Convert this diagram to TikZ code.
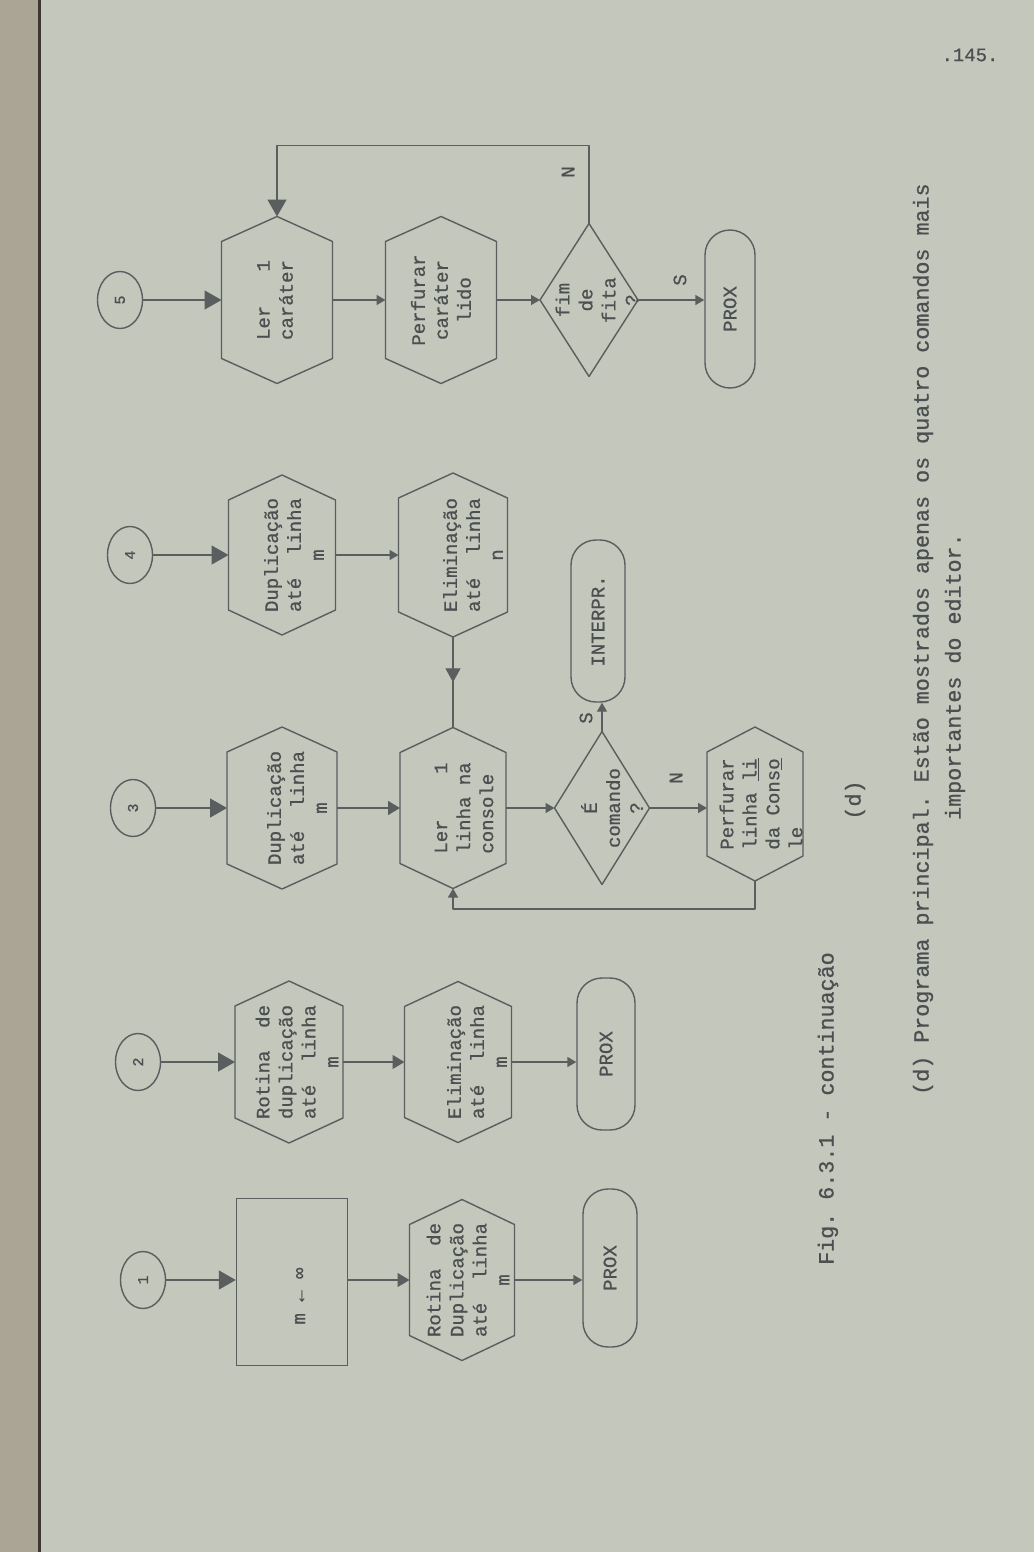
\documentclass[tikz,border=0pt]{standalone}
\usepackage{fontspec}
\setmonofont[FakeBold=0.8]{Liberation Mono}
\usetikzlibrary{arrows.meta,shapes.geometric,decorations.markings}

\definecolor{paper}{HTML}{C4C7BC}
\definecolor{bind}{HTML}{ABA595}
\definecolor{spine}{HTML}{3E3632}
\definecolor{ink}{HTML}{5A5E5E}
\definecolor{txt}{HTML}{4B4F50}

\newcommand\boxfont{\ttfamily\fontsize{19}{23}\selectfont}
\newcommand\numfont{\ttfamily\fontsize{15}{18}\selectfont}
\newcommand\capfont{\ttfamily\fontsize{21.7}{26}\selectfont}
% a line spread over a fixed width
\newcommand\jl[3]{\makebox[#1][l]{#2\hfill#3}}

\tikzset{
  flow/.style={draw=ink, color=ink, line width=1.4pt, line join=round},
  box/.style={rectangle, draw=none, inner sep=0pt, outer sep=0pt},
  conn/.style={ellipse, draw=ink, line width=1.4pt, minimum width=45pt, minimum height=57pt, inner sep=0pt},
  term/.style={rectangle, rounded corners=25pt, draw=ink, line width=1.4pt, inner sep=0pt},
  procbox/.style={rectangle, draw=ink, line width=1.4pt, inner sep=0pt},
  lbl/.style={rotate=90, text=txt, font=\boxfont, align=center, inner sep=0pt},
  bigarr/.style={flow, -{Triangle[length=17pt,width=19pt]}},
  medarr/.style={flow, -{Triangle[length=12pt,width=14pt]}},
  smallarr/.style={flow, -{Triangle[length=9pt,width=10pt]}},
  midarr/.style={flow, postaction={decorate},
    decoration={markings, mark=at position 0.5 with {\arrow{Triangle[length=14pt,width=15pt]}}}},
}

% hexagon: name, x, y, width, height
\newcommand\hexnode[5]{%
  \node[box, minimum width=#4pt, minimum height=#5pt] (#1) at (#2,#3) {};
  \draw[flow] (#1.north) -- ([yshift=-25pt]#1.north east) -- ([yshift=25pt]#1.south east)
    -- (#1.south) -- ([yshift=25pt]#1.south west) -- ([yshift=-25pt]#1.north west) -- cycle;}
% decision: name, x, y, width, height
\newcommand\dianode[5]{%
  \node[box, minimum width=#4pt, minimum height=#5pt] (#1) at (#2,#3) {};
  \draw[flow] (#1.north) -- (#1.east) -- (#1.south) -- (#1.west) -- cycle;}

\begin{document}
\begin{tikzpicture}[x=1pt,y=-1pt]
\fill[paper] (0,0) rectangle (1034,1552);
\useasboundingbox (0,0) rectangle (1034,1552);
\fill[bind] (0,0) rectangle (38,1552);
\draw[spine, line width=2.5pt] (39.5,0) -- (39.5,1552);

% ---- flow 1
\node[conn] (c1) at (143,1280) {};
\node[lbl, font=\numfont] (n1) at (c1) {1};
\node[procbox, minimum width=111pt, minimum height=167pt] (r1) at (292,1282) {};
\node[lbl] (tr1) at (300,1296) {m ← ∞};
\hexnode{h1}{462}{1280}{105}{161}
\node[lbl] (th1) at ([xshift=6pt]h1.center) {\jl{6em}{Rotina}{de}\\Duplicação\\\jl{6em}{até}{linha}\\m};
\node[term, minimum width=54pt, minimum height=158pt] (p1) at (610,1268) {};
\node[lbl] (tp1) at (p1) {PROX};
\draw[bigarr] (c1) -- (c1 -| r1.west);
\draw[medarr] (r1.east |- h1) -- (h1);
\draw[smallarr] (h1) -- (h1 -| p1.west);

% ---- flow 2
\node[conn] (c2) at (138,1062) {};
\node[lbl, font=\numfont] (n2) at (c2) {2};
\hexnode{h2a}{289}{1062}{108}{162}
\node[lbl] (th2a) at ([xshift=8pt]h2a.center) {\jl{6em}{Rotina}{de}\\duplicação\\\jl{6em}{até}{linha}\\m};
\hexnode{h2b}{458}{1062}{107}{161}
\node[lbl] (th2b) at ([xshift=19pt]h2b.center) {Eliminação\\\jl{6em}{até}{linha}\\m};
\node[term, minimum width=58pt, minimum height=152pt] (p2) at (606,1054) {};
\node[lbl] (tp2) at (p2) {PROX};
\draw[bigarr] (c2) -- (h2a);
\draw[medarr] (h2a) -- (h2b);
\draw[smallarr] (h2b) -- (h2b -| p2.west);

% ---- flow 3
\node[conn] (c3) at (133,808) {};
\node[lbl, font=\numfont] (n3) at (c3) {3};
\hexnode{h3a}{282}{808}{110}{162}
\node[lbl] (th3a) at ([xshift=15pt]h3a.center) {Duplicação\\\jl{6em}{até}{linha}\\m};
\hexnode{h3b}{453}{808}{106}{161}
\node[lbl, align=left] (th3b) at ([xshift=11pt]h3b.center) {\jl{4.8em}{Ler}{1}\\linha na\\console};
\dianode{d3}{602}{808}{95}{153}
\node[lbl] (td3) at ([xshift=10pt]d3.center) {É\\comando\\?};
\node[term, minimum width=54pt, minimum height=162pt] (i3) at (598,621) {};
\node[lbl] (ti3) at (i3) {INTERPR.};
\hexnode{h3c}{755}{804}{96}{154}
\node[lbl, align=left] (th3c) at ([xshift=6pt]h3c.center) {Perfurar\\linha \underline{li}\\da Cons\underline{o}\\le};
\draw[bigarr] (c3) -- (h3a);
\draw[medarr] (h3a) -- (h3b);
\draw[smallarr] (h3b) -- (d3);
\draw[smallarr] (d3.north) -- (d3.north |- i3.south);
\draw[smallarr] (d3) -- (d3 -| h3c.west);
\draw[smallarr] (h3c.south) -- ++(0,28) -| (h3b.south);
\node[lbl] (s3) at (586,718) {S};
\node[lbl] (no3) at (676,778) {N};

% ---- flow 4
\node[conn] (c4) at (130,555) {};
\node[lbl, font=\numfont] (n4) at (c4) {4};
\hexnode{h4a}{282}{555}{107}{160}
\node[lbl] (th4a) at ([xshift=12pt]h4a.center) {Duplicação\\\jl{6em}{até}{linha}\\m};
\hexnode{h4b}{453}{555}{109}{164}
\node[lbl] (th4b) at ([xshift=20pt]h4b.center) {Eliminação\\\jl{6em}{até}{linha}\\n};
\draw[bigarr] (c4) -- (h4a);
\draw[smallarr] (h4a) -- (h4b);
\draw[midarr] (h4b.south) -- (h3b.north);

% ---- flow 5
\node[conn] (c5) at (120,300) {};
\node[lbl, font=\numfont] (n5) at (c5) {5};
\hexnode{h5a}{277}{300}{111}{167}
\node[lbl] (th5a) at ([xshift=-2pt]h5a.center) {\jl{4.2em}{Ler}{1}\\caráter};
\hexnode{h5b}{441}{300}{111}{167}
\node[lbl] (th5b) at (h5b.center) {Perfurar\\caráter\\lido};
\dianode{d5}{589}{300}{98}{153}
\node[lbl] (td5) at ([xshift=8pt]d5.center) {fim\\de\\fita\\?};
\node[term, minimum width=50pt, minimum height=158pt] (p5) at (730,309) {};
\node[lbl] (tp5) at (p5) {PROX};
\draw[bigarr] (c5) -- (h5a);
\draw[smallarr] (h5a) -- (h5b);
\draw[smallarr] (h5b) -- (d5);
\draw[smallarr] (d5) -- (d5 -| p5.west);
\draw[bigarr] (d5.north) -- ++(0,-78) -| (h5a.north);
\node[lbl] (no5) at (568,172) {N};
\node[lbl] (s5) at (680,280) {S};

% ---- captions and page number
\node[lbl, font=\capfont, anchor=west] (cap1) at (828,1265) {Fig. 6.3.1 - continuação};
\node[lbl, font=\capfont] (cap2) at (855,800) {(d)};
\node[lbl, font=\capfont, anchor=west] (cap3) at (923,1095) {(d) Programa principal. Estão mostrados apenas os quatro comandos mais};
\node[lbl, font=\capfont, anchor=west] (cap4) at (955,820) {importantes do editor.};
\node[text=txt, font=\boxfont, inner sep=0pt] (pg) at (970,55) {.145.};
\end{tikzpicture}
\end{document}
